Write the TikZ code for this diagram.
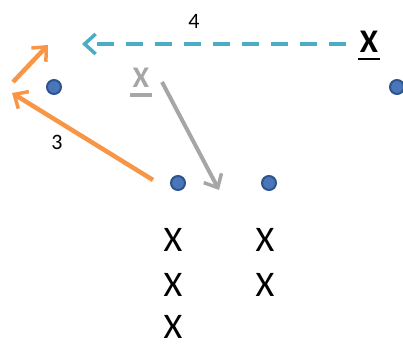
\documentclass[tikz,border=0pt]{standalone}
\usepackage{fontspec}
\setmainfont{Carlito}
\usetikzlibrary{arrows.meta}
\definecolor{dotfill}{RGB}{72,118,184}
\definecolor{dotring}{RGB}{46,84,142}
\definecolor{orangeA}{RGB}{247,150,70}
\definecolor{cyanA}{RGB}{75,172,198}
\definecolor{greyA}{RGB}{166,166,166}
\tikzset{
  player/.style={circle,fill=dotfill,draw=dotring,line width=2pt,minimum size=14pt,inner sep=0pt},
  defender/.style={font=\fontsize{36}{36}\selectfont,inner sep=0pt,anchor=center},
  label/.style={font=\fontsize{22}{22}\selectfont,inner sep=0pt},
  tip/.style={-{Straight Barb[length=11pt,width=20pt,line width=3.5pt]}},
  orangemove/.style={tip,draw=orangeA,line width=4.5pt},
  greymove/.style={tip,draw=greyA,line width=4pt},
  passline/.style={tip,draw=cyanA,line width=4pt,dash pattern=on 17pt off 12pt},
}
\begin{document}
\begin{tikzpicture}[x=1pt,y=-1pt]
\useasboundingbox (0,0) rectangle (403,343);

% offensive players
\node[player] (p1) at (54,87) {};
\node[player] (p2) at (397,87) {};
\node[player] (p3) at (178,183) {};
\node[player] (p4) at (269,183) {};

% defenders
\node[defender] (x1) at (173,240) {X};
\node[defender] (x2) at (173,285) {X};
\node[defender] (x3) at (173,327) {X};
\node[defender] (x4) at (265,240) {X};
\node[defender] (x5) at (265,285) {X};

% ball handler and the grey cutter
\node[defender,font=\fontsize{33}{33}\selectfont\bfseries] (xb) at (369,42) {X};
\draw[line width=2.5pt] (358,59) -- (380,59);
\node[defender,font=\fontsize{30}{30}\selectfont\bfseries,text=greyA] (xg) at (141,78) {X};
\draw[greyA,line width=4pt] (130,94.5) -- (152,94.5);

% labels
\node[label] (l4) at (194,21) {4};
\node[label] (l3) at (57,142) {3};

% movement endpoints
\coordinate (a1s) at (13,82);
\coordinate (a1e) at (48,45);
\coordinate (a2s) at (153,180);
\coordinate (a2e) at (12,93);
\coordinate (ps) at (346,44);
\coordinate (pe) at (82,44);
\coordinate (gs) at (162,82);
\coordinate (ge) at (219,190);

\draw[orangemove] (a1s) -- (a1e);
\draw[orangemove] (a2s) -- (a2e);
\draw[passline] (ps) -- (pe);
\draw[greymove] (gs) -- (ge);
\end{tikzpicture}
\end{document}
